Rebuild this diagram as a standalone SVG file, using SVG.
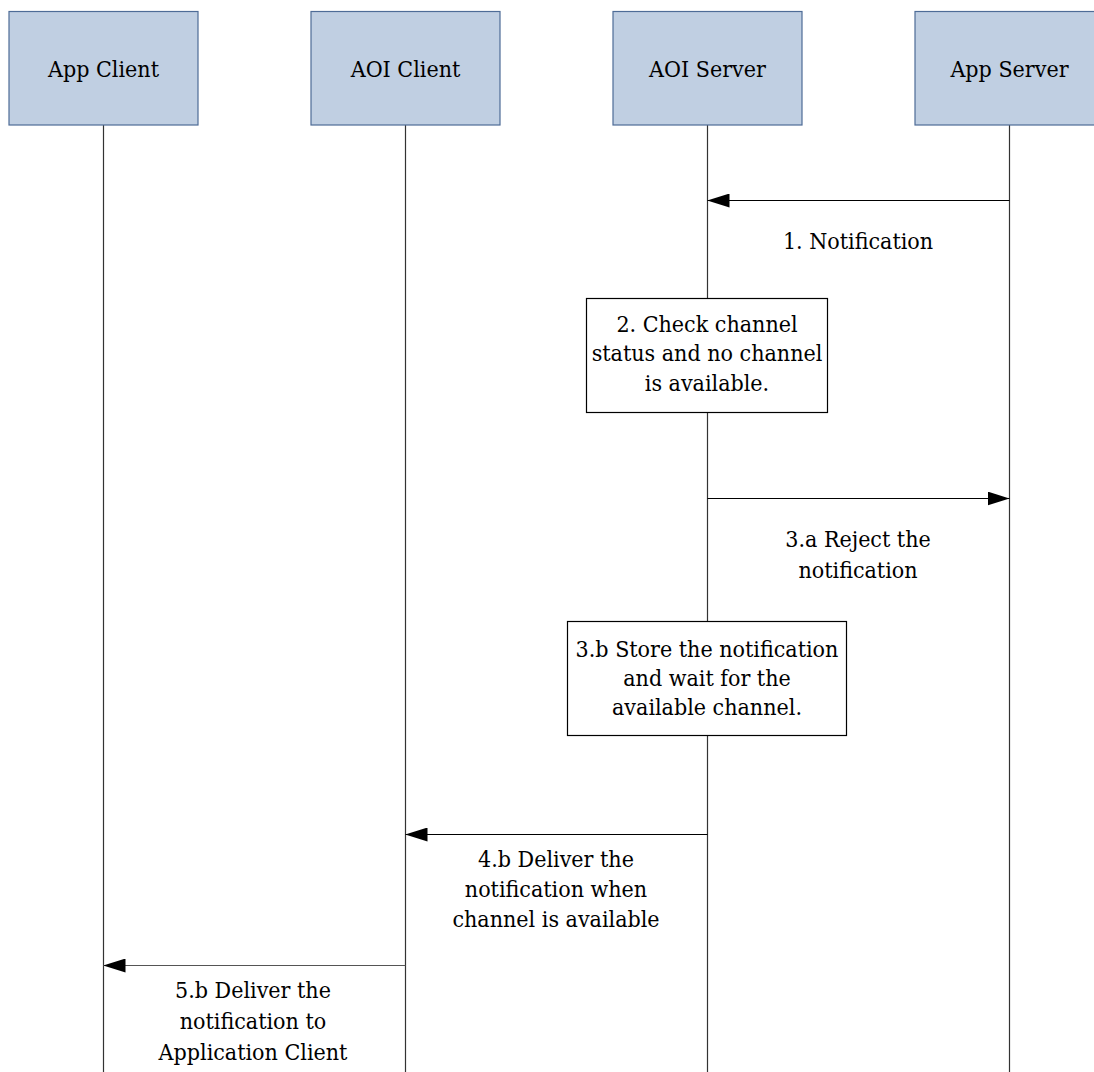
<svg xmlns="http://www.w3.org/2000/svg" width="1094" height="1072" viewBox="0 0 1094 1072">
<style>
text{font-family:"DejaVu Serif Condensed","DejaVu Serif",serif;font-stretch:condensed;font-size:23px;fill:#000;text-anchor:middle}
.hdr{fill:#c0cfe2;stroke:#4e6c97;stroke-width:1.2}
.life{stroke:#333;stroke-width:1.2;fill:none}
.msg{stroke:#000;stroke-width:1.2;fill:none}
.act{fill:#fff;stroke:#000;stroke-width:1.2}
</style>
<defs>
<marker id="ah" viewBox="0 0 22 14" refX="22" refY="7" markerWidth="22" markerHeight="14" markerUnits="userSpaceOnUse" orient="auto">
<path d="M0,0 L22,7 L0,14 Z" fill="#000"/>
</marker>
</defs>
<g id="lifelines">
<line class="life" x1="103.5" y1="125" x2="103.5" y2="1072"/>
<line class="life" x1="405.5" y1="125" x2="405.5" y2="1072"/>
<line class="life" x1="707.5" y1="125" x2="707.5" y2="1072"/>
<line class="life" x1="1009.5" y1="125" x2="1009.5" y2="1072"/>
</g>
<g id="app-client"><rect class="hdr" x="9" y="11.5" width="189" height="113.5"/><text x="103.5" y="77">App Client</text></g>
<g id="aoi-client"><rect class="hdr" x="311" y="11.5" width="189" height="113.5"/><text x="405.5" y="77">AOI Client</text></g>
<g id="aoi-server"><rect class="hdr" x="613" y="11.5" width="189" height="113.5"/><text x="707.5" y="77">AOI Server</text></g>
<g id="app-server"><rect class="hdr" x="915" y="11.5" width="189" height="113.5"/><text x="1009.5" y="77">App Server</text></g>
<g id="step2"><rect class="act" x="586.5" y="298.5" width="241" height="114"/>
<text x="707" y="332">2. Check channel</text><text x="707" y="361">status and no channel</text><text x="707" y="391">is available.</text></g>
<g id="step3b"><rect class="act" x="567.5" y="621.5" width="279" height="114"/>
<text x="707" y="657">3.b Store the notification</text><text x="707" y="686">and wait for the</text><text x="707" y="715">available channel.</text></g>
<g id="connectors">
<line class="msg" x1="1009.5" y1="200.5" x2="707.5" y2="200.5" marker-end="url(#ah)"/>
<line class="msg" x1="707.5" y1="498.5" x2="1009.5" y2="498.5" marker-end="url(#ah)"/>
<line class="msg" x1="707.5" y1="834.5" x2="405.5" y2="834.5" marker-end="url(#ah)"/>
<line class="msg" x1="405.5" y1="965.5" x2="103.5" y2="965.5" marker-end="url(#ah)" style="stroke:#555"/>
</g>
<g id="labels">
<text x="858" y="249">1. Notification</text>
<text x="858" y="547">3.a Reject the</text><text x="858" y="578">notification</text>
<text x="556" y="867">4.b Deliver the</text><text x="556" y="897">notification when</text><text x="556" y="927">channel is available</text>
<text x="253" y="998">5.b Deliver the</text><text x="253" y="1029">notification to</text><text x="253" y="1060">Application Client</text>
</g>
</svg>
